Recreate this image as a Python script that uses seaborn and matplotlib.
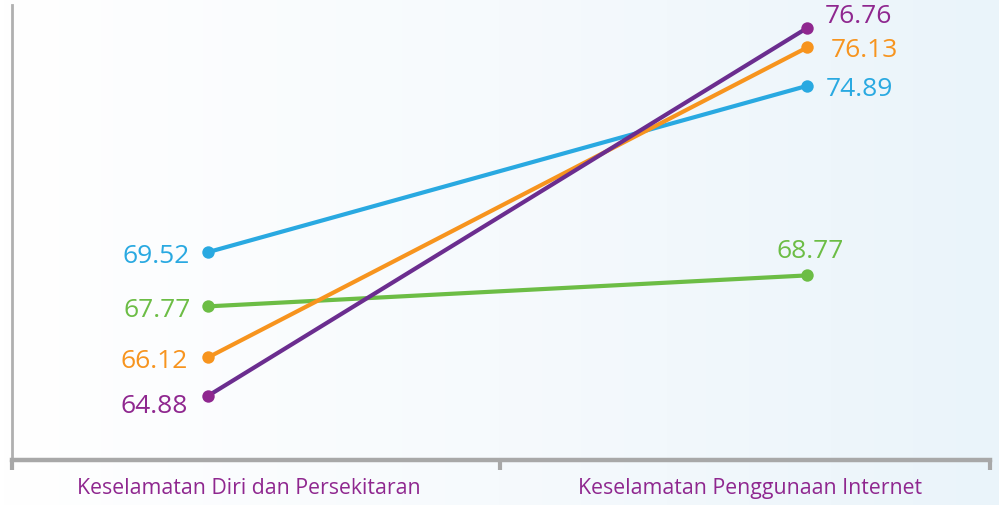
import numpy as np
import pandas as pd
import matplotlib
matplotlib.use("Agg")
import matplotlib.pyplot as plt
import seaborn as sns
from matplotlib.colors import LinearSegmentedColormap

categories = ["Keselamatan Diri dan Persekitaran", "Keselamatan Penggunaan Internet"]
series = ["Biru", "Hijau", "Oren", "Ungu"]
values_diri = [69.52, 67.77, 66.12, 64.88]
values_internet = [74.89, 68.77, 76.13, 76.76]
line_colors = ["#29a9e1", "#6cbd45", "#f7941e", "#6b2d8f"]
marker_colors = ["#29a9e1", "#6cbd45", "#f7941e", "#8f278f"]
label_colors = ["#29a9e1", "#6cbd45", "#f7941e", "#8f278f"]

rows = []
for s, a, b in zip(series, values_diri, values_internet):
    rows.append({"kategori": categories[0], "siri": s, "nilai": a})
    rows.append({"kategori": categories[1], "siri": s, "nilai": b})
df = pd.DataFrame(rows)

sns.set_theme(style="white")
plt.rcParams["font.family"] = ["Open Sans", "DejaVu Sans"]

fig = plt.figure(figsize=(9.99, 5.05), dpi=100)

# background gradient
bg = fig.add_axes([0, 0, 1, 1], zorder=-10)
grad = np.linspace(0, 1, 256).reshape(1, -1)
cmap = LinearSegmentedColormap.from_list("bg", ["#ffffff", "#f6fafd", "#eaf4fa"])
bg.imshow(grad, aspect="auto", cmap=cmap, extent=[0, 1, 0, 1])
bg.axis("off")

ax = fig.add_axes([12 / 999, 45 / 505, 978 / 999, 455 / 505])
ax.patch.set_alpha(0)

sns.lineplot(data=df, x="kategori", y="nilai", hue="siri", palette=line_colors,
             linewidth=3.0, legend=False, ax=ax, sort=False)
for i, s in enumerate(series):
    sub = df[df["siri"] == s]
    ax.scatter(sub["kategori"], sub["nilai"], s=80, color=marker_colors[i],
               zorder=5 + i, linewidths=0)
for i, line in enumerate(ax.get_lines()):
    line.set_zorder(2 + i)
    line.set_solid_capstyle("round")

ax.set_xlim(-0.327, 1.305)
ax.set_ylim(62.81, 77.5)

# value labels
left_off = [(-18, -4), (-17, -4), (-20, -4), (-20, -11)]
right_off = [(19, -4), (3, 24), (24, -3), (18, 11)]
for i in range(len(series)):
    dx, dy = left_off[i]
    ax.annotate(f"{values_diri[i]:.2f}", (0, values_diri[i]), xytext=(dx, dy),
                textcoords="offset pixels", ha="right", va="center",
                fontsize=19, color=label_colors[i], annotation_clip=False)
    dx, dy = right_off[i]
    ha = "center" if i == 1 else "left"
    ax.annotate(f"{values_internet[i]:.2f}", (1, values_internet[i]), xytext=(dx, dy),
                textcoords="offset pixels", ha=ha, va="center",
                fontsize=19, color=label_colors[i], annotation_clip=False)

# axes styling
for side in ["top", "right"]:
    ax.spines[side].set_visible(False)
ax.spines["left"].set_color("#b0b0b0")
ax.spines["left"].set_linewidth(2.0)
ax.spines["bottom"].set_color("#a8a8a8")
ax.spines["bottom"].set_linewidth(3.2)
ax.set_yticks([])
ax.set_xticks([-0.327, 0.487, 1.305])
ax.set_xticklabels(["", "", ""])
ax.tick_params(axis="x", which="major", length=7, width=3, color="#a8a8a8",
               direction="out", bottom=True)
ax.set_xticks([0.068, 0.905], minor=True)
ax.set_xticklabels(categories, minor=True, fontsize=15.3, color="#8f278f")
ax.tick_params(axis="x", which="minor", length=0, pad=13)
ax.set_xlabel("")
ax.set_ylabel("")

fig.savefig("out.png", dpi=100)
